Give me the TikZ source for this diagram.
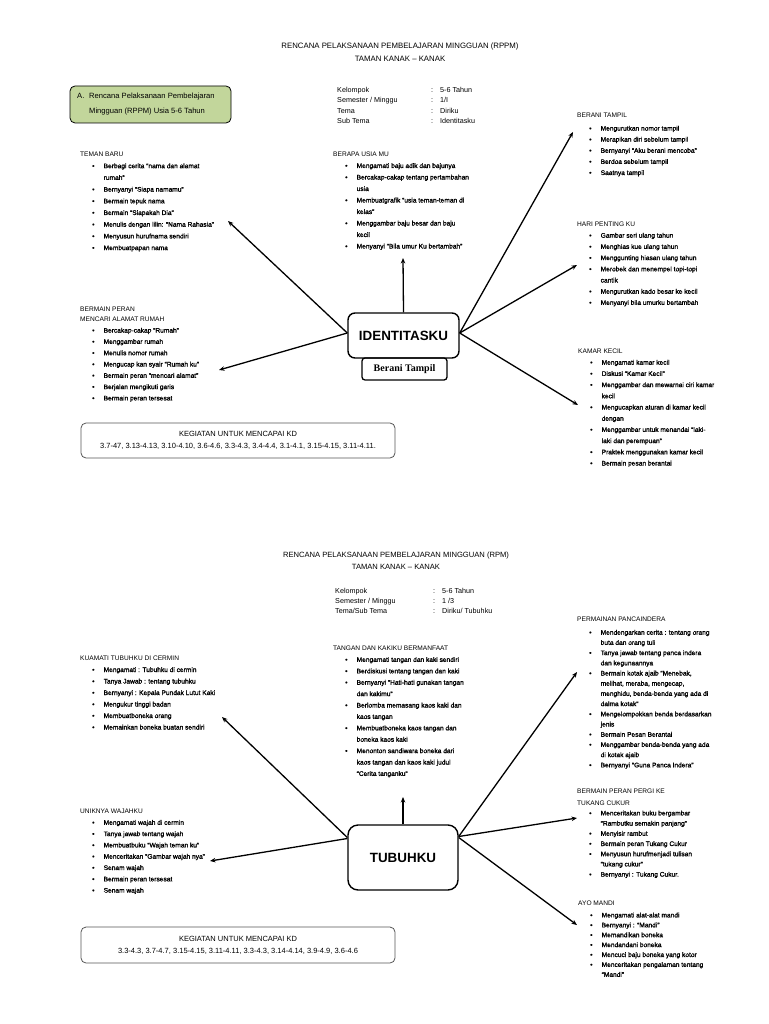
\documentclass[tikz,border=0pt]{standalone}
\usepackage{fontspec}
\setmainfont{Liberation Sans}
\newfontfamily\serifbold{Liberation Serif}
\newfontfamily\itemfont[FakeBold=1.5]{Liberation Sans}
\usetikzlibrary{arrows.meta,calc}
\newcommand{\myfs}[2]{\fontsize{#1}{#2}\selectfont}
\newcommand{\mybul}{\itemfont\hspace*{12pt}\makebox[11.5pt][l]{•}}
\newcommand{\mycont}{\itemfont\hspace*{23.5pt}}
\definecolor{greenfill}{HTML}{C2D69B}
\definecolor{kdgray}{HTML}{555555}
\begin{document}
\begin{tikzpicture}[x=1pt,y=-1pt,
  grp/.style={anchor=base west, inner sep=0pt},
  conn/.style={line width=1.3pt, -{Stealth[length=5.5pt,width=4.5pt]}},
  mainbox/.style={draw, line width=1.4pt, rounded corners=7pt, inner sep=0pt, font=\bfseries\myfs{13.4}{15}},
  kdbox/.style={draw=kdgray, line width=0.8pt, rounded corners=5pt, inner sep=0pt, minimum width=314pt, align=center, font=\myfs{7.5}{12}},
  titletext/.style={inner sep=0pt, align=center}]
\useasboundingbox (0,0) rectangle (768,1024);

% ================= TOP HALF =================
\node[titletext, font=\myfs{7.8}{13}] (title1) at (400,52) {RENCANA PELAKSANAAN PEMBELAJARAN MINGGUAN (RPPM)\\TAMAN KANAK -- KANAK};

\node[draw, line width=0.8pt, fill=greenfill, rounded corners=5pt, minimum width=161pt, minimum height=37pt, inner sep=0pt] (green) at (150.5,104.5) {};
\node[grp, font=\myfs{7.6}{14.5}] (greentext) at (77,99) {\begin{tabular}[t]{@{}l@{}}\makebox[12pt][l]{A.}Rencana Pelaksanaan Pembelajaran\\\hspace*{12pt}Mingguan (RPPM) Usia 5-6 Tahun\end{tabular}};

\node[grp, font=\myfs{7.2}{10.5}] (info1) at (337,92.5) {\begin{tabular}[t]{@{}p{94pt}@{}p{9pt}@{}l@{}}Kelompok & : & 5-6 Tahun\\Semester / Minggu & : & 1/I\\Tema & : & Diriku\\Sub Tema & : & Identitasku\end{tabular}};

\node[grp, font=\myfs{6.6}{11.7}] (teman) at (80,156.5) {\begin{tabular}[t]{@{}l@{}}TEMAN BARU\\
\mybul Berbagi cerita “nama dan alamat\\
\mycont rumah”\\
\mybul Bernyanyi “Siapa namamu”\\
\mybul Bermain tepuk nama\\
\mybul Bermain “Siapakah Dia”\\
\mybul Menulis dengan lilin: “Nama Rahasia”\\
\mybul Menyusun hurufnama sendiri\\
\mybul Membuatpapan nama\end{tabular}};

\node[grp, font=\myfs{6.6}{11.5}] (usia) at (333,156.5) {\begin{tabular}[t]{@{}l@{}}BERAPA USIA MU\\
\mybul Mengamati baju adik dan bajunya\\
\mybul Bercakap-cakap tentang pertambahan\\
\mycont usia\\
\mybul Membuatgrafik “usia teman-teman di\\
\mycont kelas”\\
\mybul Menggambar baju besar dan baju\\
\mycont kecil\\
\mybul Menyanyi “Bila umur Ku bertambah”\end{tabular}};

\node[grp, font=\myfs{6.6}{11.1}] (berani) at (577,118) {\begin{tabular}[t]{@{}l@{}}BERANI TAMPIL\\[1.5pt]
\mybul Mengurutkan nomor tampil\\
\mybul Merapikan diri sebelum tampil\\
\mybul Bernyanyi “Aku berani mencoba”\\
\mybul Berdoa sebelum tampil\\
\mybul Saatnya tampil\end{tabular}};

\node[grp, font=\myfs{6.6}{11.2}] (hari) at (577,226.5) {\begin{tabular}[t]{@{}l@{}}HARI PENTING KU\\
\mybul Gambar seri ulang tahun\\
\mybul Menghias kue ulang tahun\\
\mybul Menggunting hiasan ulang tahun\\
\mybul Merobek dan menempel topi-topi\\
\mycont cantik\\
\mybul Mengurutkan kado besar ke kecil\\
\mybul Menyanyi bila umurku bertambah\end{tabular}};

\node[grp, font=\myfs{6.6}{11.2}] (kamar) at (578,353.5) {\begin{tabular}[t]{@{}l@{}}KAMAR KECIL\\
\mybul Mengamati kamar kecil\\
\mybul Diskusi “Kamar Kecil”\\
\mybul Menggambar dan mewarnai ciri kamar\\
\mycont kecil\\
\mybul Mengucapkan aturan di kamar kecil\\
\mycont dengan\\
\mybul Menggambar untuk menandai “laki-\\
\mycont laki dan perempuan”\\
\mybul Praktek menggunakan kamar kecil\\
\mybul Bermain pesan berantai\end{tabular}};

\node[grp, font=\myfs{6.6}{11.3}] (peran) at (80,311) {\begin{tabular}[t]{@{}l@{}}BERMAIN PERAN\\[-1pt]
MENCARI ALAMAT RUMAH\\
\mybul Bercakap-cakap “Rumah”\\
\mybul Menggambar rumah\\
\mybul Menulis nomor rumah\\
\mybul Mengucap kan syair “Rumah ku”\\
\mybul Bermain peran “mencari alamat”\\
\mybul Berjalan mengikuti garis\\
\mybul Bermain peran tersesat\end{tabular}};

\node[mainbox, minimum width=111pt, minimum height=45pt] (id) at (403.5,335.5) {IDENTITASKU};
\node[draw, line width=1.3pt, rounded corners=3pt, inner sep=0pt, minimum width=85pt, minimum height=22pt, font=\serifbold\bfseries\myfs{10}{12}] (beranibox) at (404.5,369) {Berani Tampil};

\node[kdbox, minimum height=35pt] (kd1) at (238,440.5) {KEGIATAN UNTUK MENCAPAI KD\\3.7-47, 3.13-4.13, 3.10-4.10, 3.6-4.6, 3.3-4.3, 3.4-4.4, 3.1-4.1, 3.15-4.15, 3.11-4.11.};

\coordinate (aup) at (403,258);
\coordinate (ateman) at (228,221);
\coordinate (aperan) at (219,370);
\coordinate (aberani) at (573,132);
\coordinate (ahari) at (577,265);
\coordinate (akamar) at (578,405);

\draw[conn] (id.north) -- (aup);
\draw[conn] ([yshift=2.5pt]id.west) -- (ateman);
\draw[conn] ([yshift=2.5pt]id.west) -- (aperan);
\draw[conn] ([yshift=2.5pt]id.east) -- (aberani);
\draw[conn] ([yshift=2.5pt]id.east) -- (ahari);
\draw[conn] ([yshift=2.5pt]id.east) -- (akamar);

% ================= BOTTOM HALF =================
\node[titletext, font=\myfs{7.6}{11.5}] (title2) at (396,560.5) {RENCANA PELAKSANAAN PEMBELAJARAN MINGGUAN (RPM)\\TAMAN KANAK -- KANAK};

\node[grp, font=\myfs{7.2}{9.8}] (info2) at (335,593.5) {\begin{tabular}[t]{@{}p{98pt}@{}p{9pt}@{}l@{}}Kelompok & : & 5-6 Tahun\\Semester / Minggu & : & 1 /3\\Tema/Sub Tema & : & Diriku/ Tubuhku\end{tabular}};

\node[grp, font=\myfs{6.6}{11.5}] (kuamati) at (80,660.5) {\begin{tabular}[t]{@{}l@{}}KUAMATI TUBUHKU DI CERMIN\\
\mybul Mengamati : Tubuhku di cermin\\
\mybul Tanya Jawab : tentang tubuhku\\
\mybul Bernyanyi : Kepala Pundak Lutut Kaki\\
\mybul Mengukur tinggi badan\\
\mybul Membuatboneka orang\\
\mybul Memainkan boneka buatan sendiri\end{tabular}};

\node[grp, font=\myfs{6.6}{11.4}] (tangan) at (333,650.5) {\begin{tabular}[t]{@{}l@{}}TANGAN DAN KAKIKU BERMANFAAT\\
\mybul Mengamati tangan dan kaki sendiri\\
\mybul Berdiskusi tentang tangan dan kaki\\
\mybul Bernyanyi “Hati-hati gunakan tangan\\
\mycont dan kakimu”\\
\mybul Berlomba memasang kaos kaki dan\\
\mycont kaos tangan\\
\mybul Membuatboneka kaos tangan dan\\
\mycont boneka kaos kaki\\
\mybul Menonton sandiwara boneka dari\\
\mycont kaos tangan dan kaos kaki judul\\
\mycont “Cerita tanganku”\end{tabular}};

\node[grp, font=\myfs{6.6}{10.2}] (panca) at (577,621.5) {\begin{tabular}[t]{@{}l@{}}PERMAINAN PANCAINDERA\\[3pt]
\mybul Mendengarkan cerita : tentang orang\\
\mycont buta dan orang tuli\\
\mybul Tanya jawab tentang panca indera\\
\mycont dan kegunaannya\\
\mybul Bermain kotak ajaib “Menebak,\\
\mycont melihat, meraba, mengecap,\\
\mycont menghidu, benda-benda yang ada di\\
\mycont dalma kotak”\\
\mybul Mengelompokkan benda berdasarkan\\
\mycont jenis\\
\mybul Bermain Pesan Berantai\\
\mybul Menggambar benda-benda yang ada\\
\mycont di kotak ajaib\\
\mybul Bernyanyi “Guna Panca Indera”\end{tabular}};

\node[grp, font=\myfs{6.6}{10.2}] (cukur) at (577,793.5) {\begin{tabular}[t]{@{}l@{}}BERMAIN PERAN PERGI KE\\[1.5pt]
TUKANG CUKUR\\
\mybul Menceritakan buku bergambar\\
\mycont “Rambutku semakin panjang”\\
\mybul Menyisir rambut\\
\mybul Bermain peran Tukang Cukur\\
\mybul Menyusun hurufmenjadi tulisan\\
\mycont “tukang cukur”\\
\mybul Bernyanyi : Tukang Cukur.\end{tabular}};

\node[grp, font=\myfs{6.6}{9.9}] (mandi) at (578,905.5) {\begin{tabular}[t]{@{}l@{}}AYO MANDI\\[2pt]
\mybul Mengamati alat-alat mandi\\
\mybul Bernyanyi : “Mandi”\\
\mybul Memandikan boneka\\
\mybul Mendandani boneka\\
\mybul Mencuci baju boneka yang kotor\\
\mybul Menceritakan pengalaman tentang\\
\mycont “Mandi”\end{tabular}};

\node[grp, font=\myfs{6.6}{11.3}] (unik) at (80,813.5) {\begin{tabular}[t]{@{}l@{}}UNIKNYA WAJAHKU\\
\mybul Mengamati wajah di cermin\\
\mybul Tanya jawab tentang wajah\\
\mybul Membuatbuku “Wajah teman ku”\\
\mybul Menceritakan “Gambar wajah nya”\\
\mybul Senam wajah\\
\mybul Bermain peran tersesat\\
\mybul Senam wajah\end{tabular}};

\node[mainbox, rounded corners=10pt, minimum width=110pt, minimum height=65pt] (tub) at (403,857.5) {TUBUHKU};

\node[kdbox, minimum height=36pt] (kd2) at (238,945) {KEGIATAN UNTUK MENCAPAI KD\\3.3-4.3, 3.7-4.7, 3.15-4.15, 3.11-4.11, 3.3-4.3, 3.14-4.14, 3.9-4.9, 3.6-4.6};

\coordinate (bup) at (403,797);
\coordinate (bkuamati) at (222,717);
\coordinate (bunik) at (210,861);
\coordinate (bpanca) at (577,672);
\coordinate (bcukur) at (577,818);
\coordinate (bmandi) at (577,925);

\draw[conn] (tub.north) -- (bup);
\draw[conn] ([yshift=20pt]tub.west) -- (bkuamati);
\draw[conn] ([yshift=19pt]tub.west) -- (bunik);
\draw[conn] ([yshift=21pt]tub.east) -- (bpanca);
\draw[conn] ([yshift=21pt]tub.east) -- (bcukur);
\draw[conn] ([yshift=20pt]tub.east) -- (bmandi);
\end{tikzpicture}
\end{document}
